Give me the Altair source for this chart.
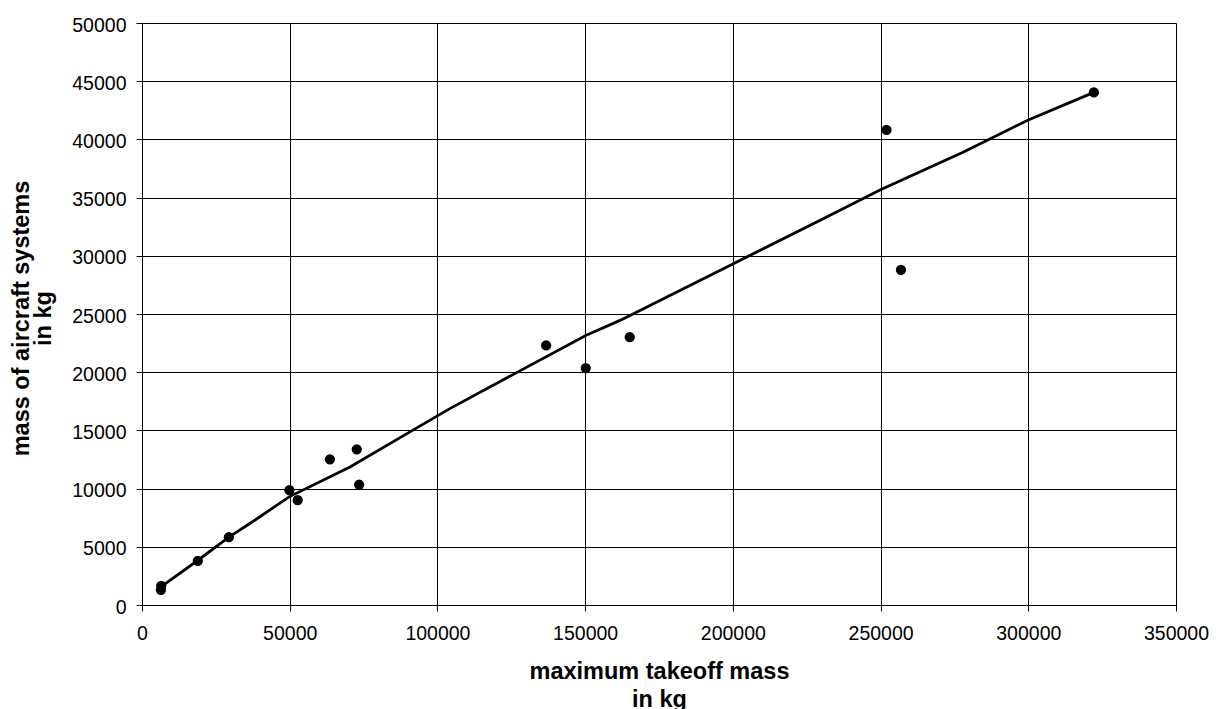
import altair as alt
import pandas as pd

# scatter data (maximum takeoff mass, mass of aircraft systems)
mtom = [6400, 6500, 18900, 29400, 49900, 52700, 63600, 72700, 73500,
        136800, 150200, 165100, 252000, 256900, 322200]
msys = [1300, 1650, 3800, 5830, 9860, 9000, 12520, 13380, 10350,
        22300, 20360, 23020, 40810, 28800, 44040]

# trend line
line_x = [6400, 18600, 29400, 36500, 49800, 70400, 90700, 104200, 121200,
          150200, 161800, 200000, 229400, 249800, 277900, 285800, 300000, 322200]
line_y = [1550, 3780, 5830, 7000, 9290, 11860, 14870, 16870, 19200,
          23160, 24450, 29300, 33030, 35660, 38900, 39890, 41670, 44040]

x_ticks = list(range(0, 350001, 50000))
y_ticks = list(range(0, 50001, 5000))

pts = pd.DataFrame({"x": mtom, "y": msys})
ln = pd.DataFrame({"x": line_x, "y": line_y, "o": list(range(len(line_x)))})

xscale = alt.Scale(domain=[0, 350000], nice=False, zero=True)
yscale = alt.Scale(domain=[0, 50000], nice=False, zero=True)

common = dict(format="d", labelFontSize=19.5, titleFontSize=23.5, titleFontWeight="bold",
              grid=True, gridColor="black", gridOpacity=1, gridWidth=1,
              domainColor="black", tickColor="black", tickSize=6,
              labelColor="black", titleColor="black", labelFlush=False,
              labelFont="Liberation Sans", titleFont="Liberation Sans")

xaxis = alt.Axis(title=["maximum takeoff mass", "in kg"], values=x_ticks,
                 labelPadding=13.5, titleLineHeight=28, titleBaseline="alphabetic",
                 titleY=73.5, titleAlign="center", **common)
yaxis = alt.Axis(title=["mass of aircraft systems", "in kg"], values=y_ticks,
                 labelPadding=10, labelOffset=2, titleLineHeight=22.5,
                 titleBaseline="alphabetic", titleAngle=270, titleX=-113.7, titleY=295,
                 titleAlign="center", **common)

line = alt.Chart(ln).mark_line(color="black", strokeWidth=2.8).encode(
    x=alt.X("x:Q", scale=xscale, axis=xaxis),
    y=alt.Y("y:Q", scale=yscale, axis=yaxis),
    order="o:Q",
)
points = alt.Chart(pts).mark_circle(color="black", opacity=1, size=105).encode(
    x=alt.X("x:Q", scale=xscale),
    y=alt.Y("y:Q", scale=yscale),
)

chart = (line + points).properties(
    width=1034, height=582,
    autosize=alt.AutoSizeParams(type="none"),
    padding={"left": 134, "top": 15, "right": 34, "bottom": 107},
).configure_view(stroke="black", strokeWidth=1).configure(
    font="Liberation Sans", background="white"
)

chart.save("out.html", embed_options={"renderer": "svg", "actions": False})
